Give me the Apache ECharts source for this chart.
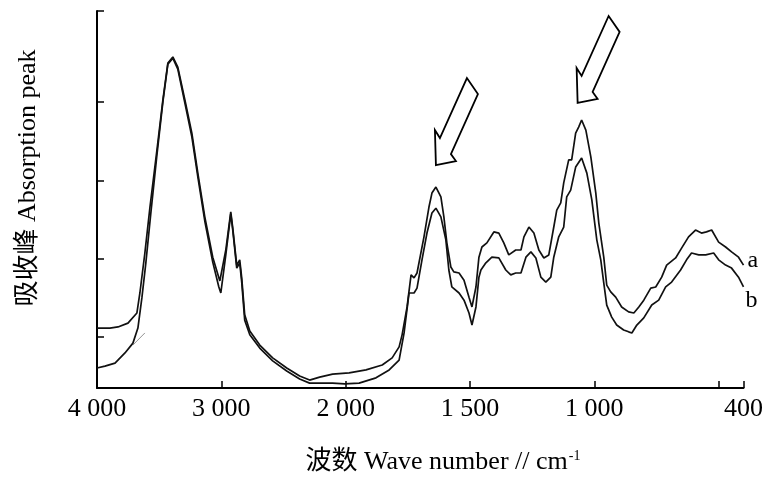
<!DOCTYPE html>
<html>
<head>
<meta charset="utf-8">
<script src="https://cdn.jsdelivr.net/npm/echarts@6/dist/echarts.min.js"></script>
<style>
  html, body { margin: 0; padding: 0; background: #fff; }
  #chart { width: 766px; height: 478px; }
</style>
</head>
<body>
<div id="chart"></div>
<script>
// wavenumbers (cm-1) and absorbance
const wnA = [4000,3896,3831,3751,3679,3655,3615,3574,3518,3470,3430,3390,3350,3293,3237,3189,3133,3069,3012,3004,2964,2924,2908,2876,2852,2836,2812,2771,2691,2587,2474,2370,2290,2209,2105,1986,1918,1853,1813,1785,1773,1753,1737,1725,1713,1685,1665,1653,1637,1617,1605,1593,1577,1565,1544,1524,1504,1492,1476,1464,1452,1432,1404,1384,1364,1344,1316,1295,1283,1263,1243,1223,1203,1183,1163,1151,1135,1123,1103,1091,1075,1063,1051,1034,1014,994,982,962,950,934,914,890,862,841,821,801,773,753,729,709,673,649,621,593,569,549,528,500,472,448,420,400]
const absA = [15.9,15.9,16.2,17.2,19.9,25.2,35.8,48.0,63.1,76.4,86.2,87.8,85.1,76.4,67.6,57.0,45.4,34.7,28.4,28.1,36.6,46.7,42.4,32.6,34.0,29.2,19.4,15.1,11.4,8.0,5.3,3.2,2.1,2.9,3.7,4.0,4.8,6.1,8.0,10.9,14.1,21.5,30.0,29.2,30.5,40.1,48.0,51.7,53.3,50.7,45.4,38.5,32.1,30.8,30.5,28.6,24.1,21.5,26.8,34.7,37.4,38.5,41.4,41.1,38.5,35.3,36.6,36.6,40.1,42.7,41.1,36.6,34.5,35.3,42.7,47.2,49.1,54.4,60.5,60.5,67.6,69.2,71.1,68.4,61.3,51.7,43.8,34.7,27.3,25.5,24.1,21.5,20.2,19.9,21.5,23.3,26.5,26.8,29.4,32.6,34.5,37.1,40.1,41.9,41.1,41.4,41.9,38.7,37.4,36.1,34.7,32.6]

const wnB = [4000,3936,3855,3775,3711,3671,3639,3607,3566,3518,3470,3430,3390,3350,3293,3237,3189,3133,3069,3020,3004,2964,2924,2908,2876,2852,2836,2812,2771,2691,2587,2474,2370,2290,2209,2105,2008,1946,1878,1825,1785,1765,1745,1737,1725,1713,1693,1673,1653,1637,1617,1597,1585,1573,1544,1524,1504,1492,1476,1464,1456,1436,1412,1384,1356,1336,1316,1295,1275,1255,1235,1215,1195,1175,1163,1143,1123,1111,1095,1075,1051,1030,1010,990,974,962,950,930,910,882,862,849,829,801,769,741,713,689,653,629,609,580,552,520,500,472,448,420,400]
const absB = [5.3,5.8,6.6,9.3,11.9,15.9,23.9,33.2,46.7,61.8,75.9,85.9,87.5,84.6,75.6,66.6,56.0,44.3,33.4,26.8,25.2,35.3,46.2,41.9,31.8,33.2,28.1,18.0,14.1,10.6,7.2,4.5,2.4,1.3,1.3,1.3,1.1,1.3,2.7,4.8,7.4,14.6,25.2,25.5,25.2,26.5,34.0,41.1,46.4,47.7,45.4,39.3,31.3,26.8,25.2,23.3,19.9,16.7,21.5,29.4,31.3,33.2,34.7,34.5,31.3,30.0,30.5,30.5,34.7,36.1,34.5,29.4,28.1,29.4,34.7,40.1,42.7,50.7,52.5,58.6,61.0,57.0,49.9,39.3,34.0,27.9,22.0,18.8,16.7,15.4,14.9,14.6,16.7,18.6,22.0,23.3,26.8,28.1,31.3,34.0,35.8,35.3,35.3,35.8,34.0,32.6,31.8,29.4,26.8]

// short thin baseline guide near 3700
const wnGuide = [3711, 3615]
const absGuide = [11.4, 14.6]

// axis ticks and labels
const xTickWn = [3000, 2000, 1500, 1000, 500, 400]
const xLabelWn = [4000, 3000, 2000, 1500, 1000, 400]
const yTicks = [13.5, 34.2, 54.9, 75.9, 100]

// the two peaks marked with arrows (on curve a)
const arrowWn = [1637, 1051]

// spectrometer scale changes at 2000 cm-1: half compression above it
const toT = w => w >= 2000 ? (4000 - w) / 2 : 3000 - w
const fromT = t => t <= 1000 ? 4000 - 2 * t : 3000 - t

function fmtWn(w) {
  if (w < 1000) return String(w)
  return Math.floor(w / 1000) + ' ' + String(w % 1000).padStart(3, '0')
}

const serif = '"Liberation Serif", "Noto Sans CJK SC", serif'
const pairs = (xs, ys) => xs.map((w, i) => [toT(w), ys[i]])

var myChart = echarts.init(document.getElementById('chart'))

var option = {
  animation: false,
  backgroundColor: '#fff',
  grid: { left: 97, right: 19, top: 11, bottom: 90 },
  xAxis: {
    type: 'value',
    min: 0,
    max: 2600,
    axisLine: { lineStyle: { color: '#000', width: 2 } },
    axisTick: { inside: true, length: 7, customValues: xTickWn.map(toT), lineStyle: { color: '#000', width: 1.5 } },
    axisLabel: {
      customValues: xLabelWn.map(toT),
      formatter: v => fmtWn(Math.round(fromT(v))),
      color: '#000', fontFamily: serif, fontSize: 26, margin: 8
    },
    splitLine: { show: false }
  },
  yAxis: {
    type: 'value',
    min: 0,
    max: 100,
    axisLine: { show: true, lineStyle: { color: '#000', width: 2 } },
    axisTick: { show: true, inside: true, length: 7, customValues: yTicks, lineStyle: { color: '#000', width: 1.5 } },
    axisLabel: { show: false },
    splitLine: { show: false }
  },
  series: [
    {
      name: 'a', type: 'line', data: pairs(wnA, absA), showSymbol: false,
      lineStyle: { color: '#111', width: 1.7 },
      endLabel: { show: true, formatter: 'a', color: '#000', fontFamily: serif, fontSize: 24, distance: 4, offset: [0, -4] }
    },
    {
      name: 'b', type: 'line', data: pairs(wnB, absB), showSymbol: false,
      lineStyle: { color: '#111', width: 1.7 },
      endLabel: { show: true, formatter: 'b', color: '#000', fontFamily: serif, fontSize: 24, distance: 2, offset: [0, 14] }
    },
    {
      name: 'guide', type: 'line', data: pairs(wnGuide, absGuide), showSymbol: false, silent: true,
      lineStyle: { color: '#777', width: 0.8 }
    }
  ]
}
myChart.setOption(option)

// hollow arrows pointing at the peaks, plus the axis titles
const arrowShape = [[0, 0], [20, -4], [15, -11], [42, -71], [31, -87], [4, -27], [-1, -35]]
const arrowNudge = [[0, -22], [-4, -17]]
const arrows = arrowWn.map((w, k) => {
  const i = wnA.indexOf(w)
  const p = myChart.convertToPixel({ gridIndex: 0 }, [toT(w), absA[i]])
  const tip = [p[0] + arrowNudge[k][0], p[1] + arrowNudge[k][1]]
  return {
    type: 'polygon',
    shape: { points: arrowShape.map(q => [tip[0] + q[0], tip[1] + q[1]]) },
    style: { fill: '#fff', stroke: '#000', lineWidth: 1.8 }
  }
})

myChart.setOption({
  graphic: arrows.concat([
    {
      type: 'text', x: 443, y: 462,
      style: {
        text: '{m|波数 Wave number // cm}{s|-1}',
        align: 'center', verticalAlign: 'middle', textAlign: 'center', textVerticalAlign: 'middle',
        fill: '#000',
        rich: {
          m: { fontFamily: serif, fontSize: 26, fill: '#000' },
          s: { fontFamily: serif, fontSize: 14, fill: '#000', verticalAlign: 'top', padding: [0, 0, 10, 1] }
        }
      }
    },
    {
      type: 'text', x: 28, y: 178, rotation: Math.PI / 2,
      style: {
        text: '吸收峰 Absorption peak',
        align: 'center', verticalAlign: 'middle', textAlign: 'center', textVerticalAlign: 'middle',
        fill: '#000', fontFamily: serif, fontSize: 26
      }
    }
  ])
})
</script>
</body>
</html>
